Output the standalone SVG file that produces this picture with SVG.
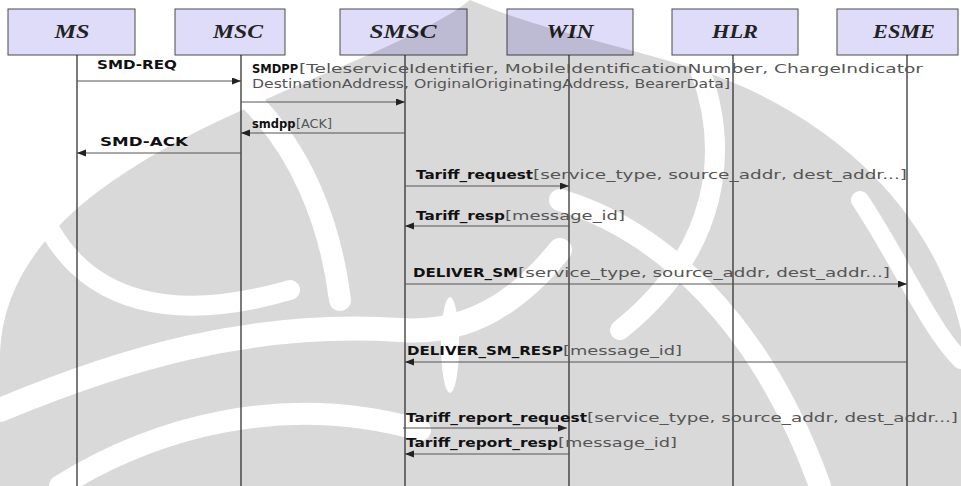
<svg xmlns="http://www.w3.org/2000/svg" width="961" height="486" viewBox="0 0 961 486">
  <style>
    .box { fill: #dedcf8; stroke: #4a4a4a; stroke-width: 1; }
    .head { font-family: "Liberation Serif", "DejaVu Serif", serif; font-style: italic; font-weight: bold; font-size: 18px; fill: #222; text-anchor: middle; }
    .life { stroke: #222; stroke-width: 1.2; fill: none; }
    .msg { stroke: #555; stroke-width: 1; fill: none; marker-end: url(#arrow); }
    .lbl { font-family: "DejaVu Sans", "Liberation Sans", sans-serif; font-size: 12.5px; fill: #555; }
    .name { font-weight: bold; fill: #111; }
    .tight { font-size: 11.5px; }
  </style>
  <defs>
    <marker id="arrow" markerUnits="userSpaceOnUse" markerWidth="10" markerHeight="8" refX="9" refY="3.5" orient="auto">
      <path d="M0,0 L9,3.5 L0,7 Z" fill="#222"/>
    </marker>
    <!-- background emblem: solid body with curved light bands cut out -->
    <mask id="emblem" maskUnits="userSpaceOnUse" x="0" y="0" width="961" height="486">
      <path fill="#fff" d="M470,0 C420,40 300,80 200,130 C80,190 0,260 0,360 L0,486 L961,486 L961,330 C930,200 820,110 700,70 C620,45 540,30 470,0 Z"/>
      <g fill="none" stroke="#000" stroke-linecap="round">
        <path d="M0,200 C60,170 120,140 200,110" stroke-width="30"/>
        <path d="M50,230 C90,300 170,325 290,290" stroke-width="20"/>
        <path d="M0,410 C120,360 250,320 400,330 C470,335 520,300 560,250" stroke-width="24"/>
        <path d="M60,486 C150,430 280,390 420,430" stroke-width="22"/>
        <path d="M250,100 C300,150 330,220 340,300" stroke-width="22"/>
        <path d="M560,200 C660,230 760,320 820,486" stroke-width="22"/>
        <path d="M700,70 C730,150 720,250 620,330" stroke-width="20"/>
        <path d="M860,200 C900,260 930,330 961,360" stroke-width="18"/>
      </g>
      <ellipse cx="450" cy="345" rx="9" ry="48" fill="#000"/>
    </mask>
  </defs>

  <rect width="961" height="486" fill="#fff"/>

  <!-- participants -->
  <g id="ms"><rect class="box" x="8" y="9" width="127" height="46"/><text class="head" x="72" y="38" textLength="35" lengthAdjust="spacingAndGlyphs">MS</text></g>
  <g id="msc"><rect class="box" x="175" y="9" width="110" height="46"/><text class="head" x="238" y="38" textLength="50" lengthAdjust="spacingAndGlyphs">MSC</text></g>
  <g id="smsc"><rect class="box" x="340" y="9" width="127" height="46"/><text class="head" x="403" y="38" textLength="67" lengthAdjust="spacingAndGlyphs">SMSC</text></g>
  <g id="win"><rect class="box" x="507" y="9" width="126" height="46"/><text class="head" x="570" y="38" textLength="47" lengthAdjust="spacingAndGlyphs">WIN</text></g>
  <g id="hlr"><rect class="box" x="672" y="9" width="126" height="46"/><text class="head" x="735" y="38" textLength="46" lengthAdjust="spacingAndGlyphs">HLR</text></g>
  <g id="esme"><rect class="box" x="837" y="9" width="121" height="46"/><text class="head" x="904" y="38" textLength="62" lengthAdjust="spacingAndGlyphs">ESME</text></g>

  <!-- emblem tint over the page -->
  <rect width="961" height="486" fill="#000" fill-opacity="0.15" mask="url(#emblem)"/>

  <!-- lifelines -->
  <g id="lifelines">
    <line class="life" x1="77" y1="55" x2="77" y2="486"/>
    <line class="life" x1="241" y1="55" x2="241" y2="486"/>
    <line class="life" x1="405" y1="55" x2="405" y2="486"/>
    <line class="life" x1="569" y1="55" x2="569" y2="486"/>
    <line class="life" x1="733" y1="55" x2="733" y2="486"/>
    <line class="life" x1="907" y1="55" x2="907" y2="486"/>
  </g>

  <!-- messages -->
  <g id="connectors">
    <line class="msg" x1="77" y1="81" x2="241" y2="81"/>
    <line class="msg" x1="241" y1="102" x2="405" y2="102"/>
    <line class="msg" x1="405" y1="133" x2="241" y2="133"/>
    <line class="msg" x1="241" y1="153" x2="77" y2="153"/>
    <line class="msg" x1="405" y1="186" x2="569" y2="186"/>
    <line class="msg" x1="569" y1="226" x2="405" y2="226"/>
    <line class="msg" x1="405" y1="284" x2="907" y2="284"/>
    <line class="msg" x1="907" y1="362" x2="405" y2="362"/>
    <line class="msg" x1="403" y1="428" x2="567" y2="428"/>
    <line class="msg" x1="569" y1="454" x2="405" y2="454"/>
  </g>

  <!-- message labels: bold operation name followed by its parameters -->
  <g id="labels">
    <text class="lbl" x="97" y="69" textLength="80" lengthAdjust="spacingAndGlyphs"><tspan class="name">SMD-REQ</tspan></text>

    <text class="lbl" y="73"><tspan class="name tight" x="252">SMDPP</tspan><tspan x="299" textLength="624" lengthAdjust="spacingAndGlyphs">[TeleserviceIdentifier, MobileIdentificationNumber, ChargeIndicator</tspan></text>
    <text class="lbl" x="252" y="88" textLength="478" lengthAdjust="spacingAndGlyphs">DestinationAddress, OriginalOriginatingAddress, BearerData]</text>

    <text class="lbl" y="128"><tspan class="name tight" x="252">smdpp</tspan><tspan x="296" textLength="36" lengthAdjust="spacingAndGlyphs">[ACK]</tspan></text>

    <text class="lbl" x="100" y="146" textLength="88" lengthAdjust="spacingAndGlyphs"><tspan class="name">SMD-ACK</tspan></text>

    <text class="lbl" y="179"><tspan class="name" x="416" textLength="117" lengthAdjust="spacingAndGlyphs">Tariff_request</tspan><tspan x="533" textLength="374" lengthAdjust="spacingAndGlyphs">[service_type, source_addr, dest_addr...]</tspan></text>

    <text class="lbl" y="220"><tspan class="name" x="416" textLength="89" lengthAdjust="spacingAndGlyphs">Tariff_resp</tspan><tspan x="505" textLength="120" lengthAdjust="spacingAndGlyphs">[message_id]</tspan></text>

    <text class="lbl" y="277"><tspan class="name" x="413" textLength="105" lengthAdjust="spacingAndGlyphs">DELIVER_SM</tspan><tspan x="518" textLength="372" lengthAdjust="spacingAndGlyphs">[service_type, source_addr, dest_addr...]</tspan></text>

    <text class="lbl" y="355"><tspan class="name" x="407" textLength="156" lengthAdjust="spacingAndGlyphs">DELIVER_SM_RESP</tspan><tspan x="563" textLength="119" lengthAdjust="spacingAndGlyphs">[message_id]</tspan></text>

    <text class="lbl" y="422"><tspan class="name" x="406" textLength="181" lengthAdjust="spacingAndGlyphs">Tariff_report_request</tspan><tspan x="587" textLength="371" lengthAdjust="spacingAndGlyphs">[service_type, source_addr, dest_addr...]</tspan></text>

    <text class="lbl" y="447"><tspan class="name" x="406" textLength="152" lengthAdjust="spacingAndGlyphs">Tariff_report_resp</tspan><tspan x="558" textLength="119" lengthAdjust="spacingAndGlyphs">[message_id]</tspan></text>
  </g>
</svg>
